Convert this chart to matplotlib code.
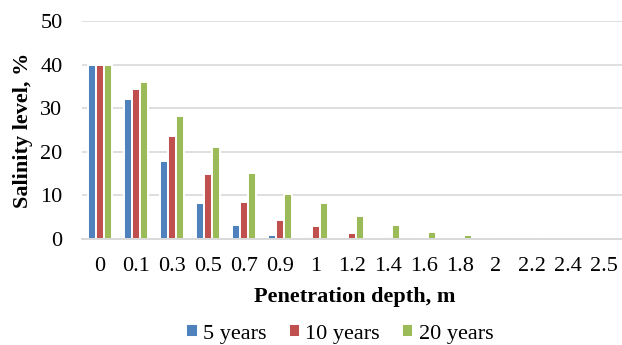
import matplotlib
matplotlib.use("Agg")
import matplotlib.pyplot as plt
import numpy as np

depths = ["0", "0.1", "0.3", "0.5", "0.7", "0.9", "1", "1.2", "1.4", "1.6", "1.8", "2", "2.2", "2.4", "2.5"]
years_5 = [40, 32.0, 18.0, 8.3, 3.1, 0.9, 0.4, 0.0, 0.0, 0.0, 0.0, 0.0, 0.0, 0.0, 0.0]
years_10 = [40, 34.3, 23.7, 14.9, 8.5, 4.4, 3.0, 1.3, 0.5, 0.2, 0.0, 0.0, 0.0, 0.0, 0.0]
years_20 = [40, 36.0, 28.3, 21.1, 15.2, 10.3, 8.3, 5.2, 3.1, 1.6, 0.9, 0.5, 0.2, 0.0, 0.0]
series_names = ["5 years", "10 years", "20 years"]
colors = ["#4F81BD", "#C0504D", "#9BBB59"]

plt.rcParams["font.family"] = ["Liberation Serif", "DejaVu Serif"]
FS = 16
GRID = "#D9D9D9"

W, H = 622, 345
fig = plt.figure(figsize=(W / 100, H / 100), dpi=100)
ax = fig.add_axes([82 / W, (H - 239) / H, 540 / W, 218 / H])

x = np.arange(len(depths))
bw = 0.225
for i, (vals, name, c) in enumerate(zip([years_5, years_10, years_20], series_names, colors)):
    # white separators only on bars that actually have height
    lw = [1.4 if v > 0 else 0 for v in vals]
    ax.bar(x + (i - 1) * bw, vals, width=bw, color=c, edgecolor="white",
           linewidth=lw, label=name, zorder=3)

ax.set_xlim(-0.5, len(depths) - 0.5)
ax.set_ylim(0, 50)
ax.set_yticks(range(0, 51, 10))
ax.set_xticks(x)
ax.set_xticklabels(depths)
ax.yaxis.grid(True, color=GRID, linewidth=1.2, zorder=0)
ax.axhline(0, color=GRID, linewidth=1.4, zorder=4, clip_on=False)
for s in ["top", "right", "left", "bottom"]:
    ax.spines[s].set_visible(False)
ax.tick_params(axis="x", length=0, pad=13, labelsize=FS)
ax.tick_params(axis="y", length=0, pad=14, labelsize=FS)

fig.text(355 / W, 1 - 297 / H, "Penetration depth, m", ha="center", va="center",
         fontsize=FS, fontweight="bold")
fig.text(23 / W, 1 - 130 / H, "Salinity level, %", ha="center", va="center",
         rotation=90, fontsize=FS, fontweight="bold")

fig.legend(loc="center", bbox_to_anchor=(340 / W, 1 - 334 / H), ncol=3, frameon=False,
           fontsize=FS, handlelength=0.5, handleheight=0.5, handletextpad=0.25,
           columnspacing=1.0, borderpad=0, borderaxespad=0)

fig.savefig("out.png", dpi=100)
